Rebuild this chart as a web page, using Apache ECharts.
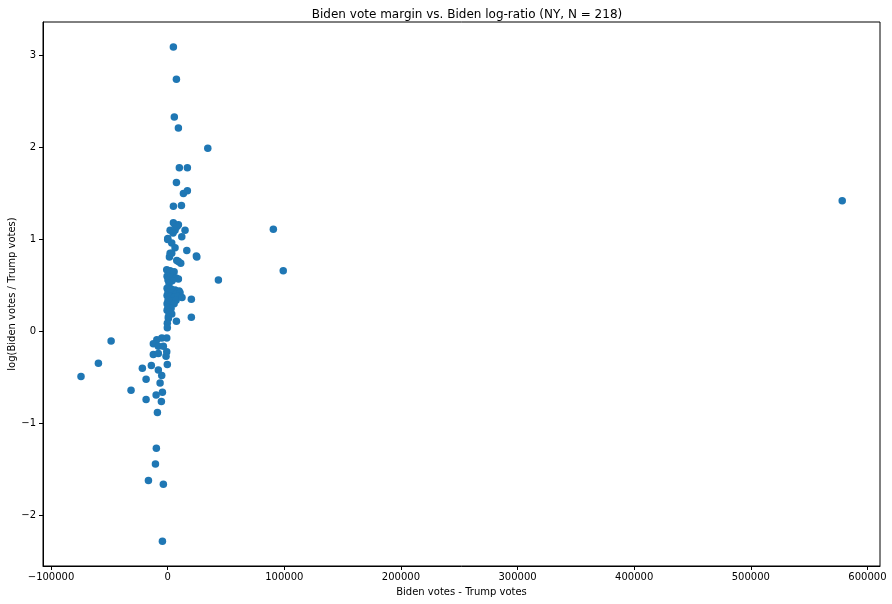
<!DOCTYPE html>
<html>
<head>
<meta charset="utf-8">
<script src="https://cdn.jsdelivr.net/npm/echarts@6/dist/echarts.min.js"></script>
<style>html,body{margin:0;padding:0;background:#fff}#c{width:892px;height:604px}</style>
</head>
<body>
<div id="c"></div>
<script>
const chartTitle = "Biden vote margin vs. Biden log-ratio (NY, N = 218)";
const xAxisTitle = "Biden votes - Trump votes";
const yAxisTitle = "log(Biden votes / Trump votes)";
const xTicks = [-100000, 0, 100000, 200000, 300000, 400000, 500000, 600000];
const yTicks = [-2, -1, 0, 1, 2, 3];

// Biden votes - Trump votes
const margin = [
  4900, 7500, 5700, 9200, 34400, 10000, 16900, 7500, 13500, 16900, 4900, 11800,
  578400, 90600, 99100, 43500, 24600, 20300, 20300, 7500,
  6300, 2100, 14900, 100, 12100, 3500, 6300, 2100, 16400, 25000, 9200, 600,
  4900, 9200, 6300, 4600, 8000, 1500, 3500, 11200, 7800, 0,
  -800, 2100, 5500, -500, 2900, 7200, 9200, 300, 3800, 1200,
  -500, 2900, 6300, 9800, 300, 4100, 7200, 10600, -500, 2100, 5500, 8900,
  300, 3800, 7200, -500, 2100, 5500, 300, 2900, -500, 1200, 12300,
  3500, 600, -300, -300, 600,
  -48500, -59400, -74300, -31400, -21700, -14000, -18500, -18500,
  -800, -5000, -9300, -12300, -8000, -3700, -800, -12300, -8000, -1400,
  -300, -8000, -5100, -6500, -4500, -9900, -5400, -8800,
  -9700, -10500, -16500, -3700, -4500
];
// log(Biden votes / Trump votes)
const logRatio = [
  3.09, 2.74, 2.33, 2.21, 1.99, 1.78, 1.78, 1.62, 1.50, 1.53, 1.36, 1.37,
  1.42, 1.11, 0.66, 0.56, 0.82, 0.35, 0.155, 0.11,
  1.16, 1.10, 1.10, 1.01, 1.03, 0.96, 0.91, 0.85, 0.88, 0.81, 0.76, 0.65,
  1.18, 1.16, 1.10, 1.07, 1.14, 0.81, 0.85, 0.74, 0.77, 1.00,
  0.67, 0.66, 0.65, 0.60, 0.59, 0.58, 0.57, 0.56, 0.55, 0.52,
  0.47, 0.46, 0.45, 0.44, 0.43, 0.42, 0.41, 0.42, 0.39, 0.38, 0.37, 0.38,
  0.34, 0.33, 0.34, 0.30, 0.29, 0.30, 0.26, 0.25, 0.23, 0.21, 0.37,
  0.19, 0.14, 0.09, 0.04, 0.16,
  -0.105, -0.345, -0.49, -0.64, -0.40, -0.37, -0.52, -0.74,
  -0.07, -0.07, -0.09, -0.135, -0.16, -0.16, -0.22, -0.25, -0.24, -0.27,
  -0.36, -0.42, -0.48, -0.56, -0.66, -0.69, -0.76, -0.88,
  -1.27, -1.44, -1.62, -1.66, -2.28
];

const points = margin.map((m, i) => [m, logRatio[i]]);
const fmt = v => String(v).replace('-', '\u2212');
const font = "DejaVu Sans";

const chart = echarts.init(document.getElementById('c'), null, {renderer: 'canvas'});
chart.setOption({
  backgroundColor: '#ffffff',
  animation: false,
  title: {
    text: chartTitle,
    left: 462, top: 4, textAlign: 'center',
    textStyle: {fontFamily: font, fontSize: 12, fontWeight: 'normal', color: '#000'}
  },
  grid: {left: 43, right: 12, top: 22, bottom: 38, show: true, borderColor: '#000', borderWidth: 1,
         backgroundColor: 'transparent', containLabel: false, outerBoundsMode: 'none'},
  xAxis: {
    type: 'value', min: -106900, max: 610800,
    name: xAxisTitle, nameLocation: 'middle', nameGap: 21, nameMoveOverlap: false,
    nameTextStyle: {fontFamily: font, fontSize: 10, color: '#000'},
    axisLine: {show: true, onZero: false, lineStyle: {color: '#000'}},
    axisTick: {show: true, length: 4, lineStyle: {color: '#000'}, customValues: xTicks},
    axisLabel: {fontFamily: font, fontSize: 10, color: '#000', margin: 6, formatter: fmt, customValues: xTicks},
    splitLine: {show: false}
  },
  yAxis: {
    type: 'value', min: -2.549, max: 3.363,
    name: yAxisTitle, nameLocation: 'middle', nameGap: 26, nameRotate: 90, nameMoveOverlap: false,
    nameTextStyle: {fontFamily: font, fontSize: 10, color: '#000'},
    axisLine: {show: true, onZero: false, lineStyle: {color: '#000'}},
    axisTick: {show: true, length: 4, lineStyle: {color: '#000'}, customValues: yTicks},
    axisLabel: {fontFamily: font, fontSize: 10, color: '#000', margin: 7, formatter: fmt, customValues: yTicks},
    splitLine: {show: false}
  },
  series: [{
    type: 'scatter',
    data: points,
    symbolSize: 7.5,
    itemStyle: {color: '#1f77b4', opacity: 1}
  }]
});
</script>
</body>
</html>
